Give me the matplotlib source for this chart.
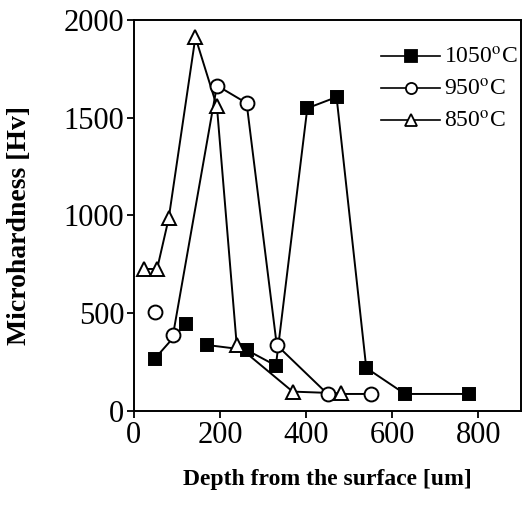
import matplotlib.pyplot as plt
import numpy as np
from matplotlib.lines import Line2D

plt.rcParams['font.family'] = ['Liberation Serif', 'DejaVu Serif']
plt.rcParams['mathtext.fontset'] = 'stix'

# data
depth_1050 = [48, 120, 171, 262, 330, 403, 471, 540, 630, 779]
hv_1050 = [266, 445, 337, 312, 232, 1548, 1605, 220, 87, 87]
depth_950 = [49, 91, 193, 262, 332, 450, 550]
hv_950 = [505, 389, 1664, 1574, 337, 87, 87]
depth_850 = [23, 54, 81, 143, 193, 239, 369, 481]
hv_850 = [726, 726, 985, 1911, 1557, 337, 99, 90]

# where the original drawing leaves the connecting line out
breaks_1050 = [2]
breaks_950 = [1]
breaks_850 = []

labels = ['1050$^{\\rm o}$C', '950$^{\\rm o}$C', '850$^{\\rm o}$C']

fig = plt.figure(figsize=(5.27, 5.08), dpi=100)
ax = fig.add_axes([0.254, 0.191, 0.735, 0.770])

series = [
    (depth_1050, hv_1050, breaks_1050, 's', 'black'),
    (depth_950, hv_950, breaks_950, 'o', 'white'),
    (depth_850, hv_850, breaks_850, '^', 'white'),
]

handles = []
for (x, y, brk, mk, fc), lab in zip(series, labels):
    x = np.array(x)
    y = np.array(y)
    for xs, ys in zip(np.split(x, brk), np.split(y, brk)):
        ax.plot(xs, ys, '-', color='black', lw=1.4, zorder=2)
    ms = 9 if mk == 's' else 10
    ax.plot(x, y, linestyle='none', marker=mk, ms=ms, mfc=fc, mec='black',
            mew=1.4, zorder=3)
    handles.append(Line2D([], [], color='black', lw=1.2, marker=mk, ms=8,
                          mfc=fc, mec='black', mew=1.3))

ax.set_xlim(0, 900)
ax.set_ylim(0, 2000)
ax.set_xticks([0, 200, 400, 600, 800])
ax.set_yticks([0, 500, 1000, 1500, 2000])
ax.tick_params(direction='out', length=5, width=1.3, labelsize=22, pad=2)
for s in ax.spines.values():
    s.set_linewidth(1.4)

ax.set_xlabel('Depth from the surface [um]', fontsize=17, fontweight='bold',
              labelpad=14)
ax.set_ylabel('Microhardness [Hv]', fontsize=20, fontweight='bold')
ax.yaxis.set_label_coords(-0.262, 0.475)

ax.legend(handles, labels, loc='upper right', bbox_to_anchor=(1.02, 0.96),
          frameon=False, fontsize=17, handlelength=2.5, handletextpad=0.15,
          labelspacing=0.45, borderaxespad=0.1, borderpad=0.4)

fig.savefig('out.png', dpi=100)
